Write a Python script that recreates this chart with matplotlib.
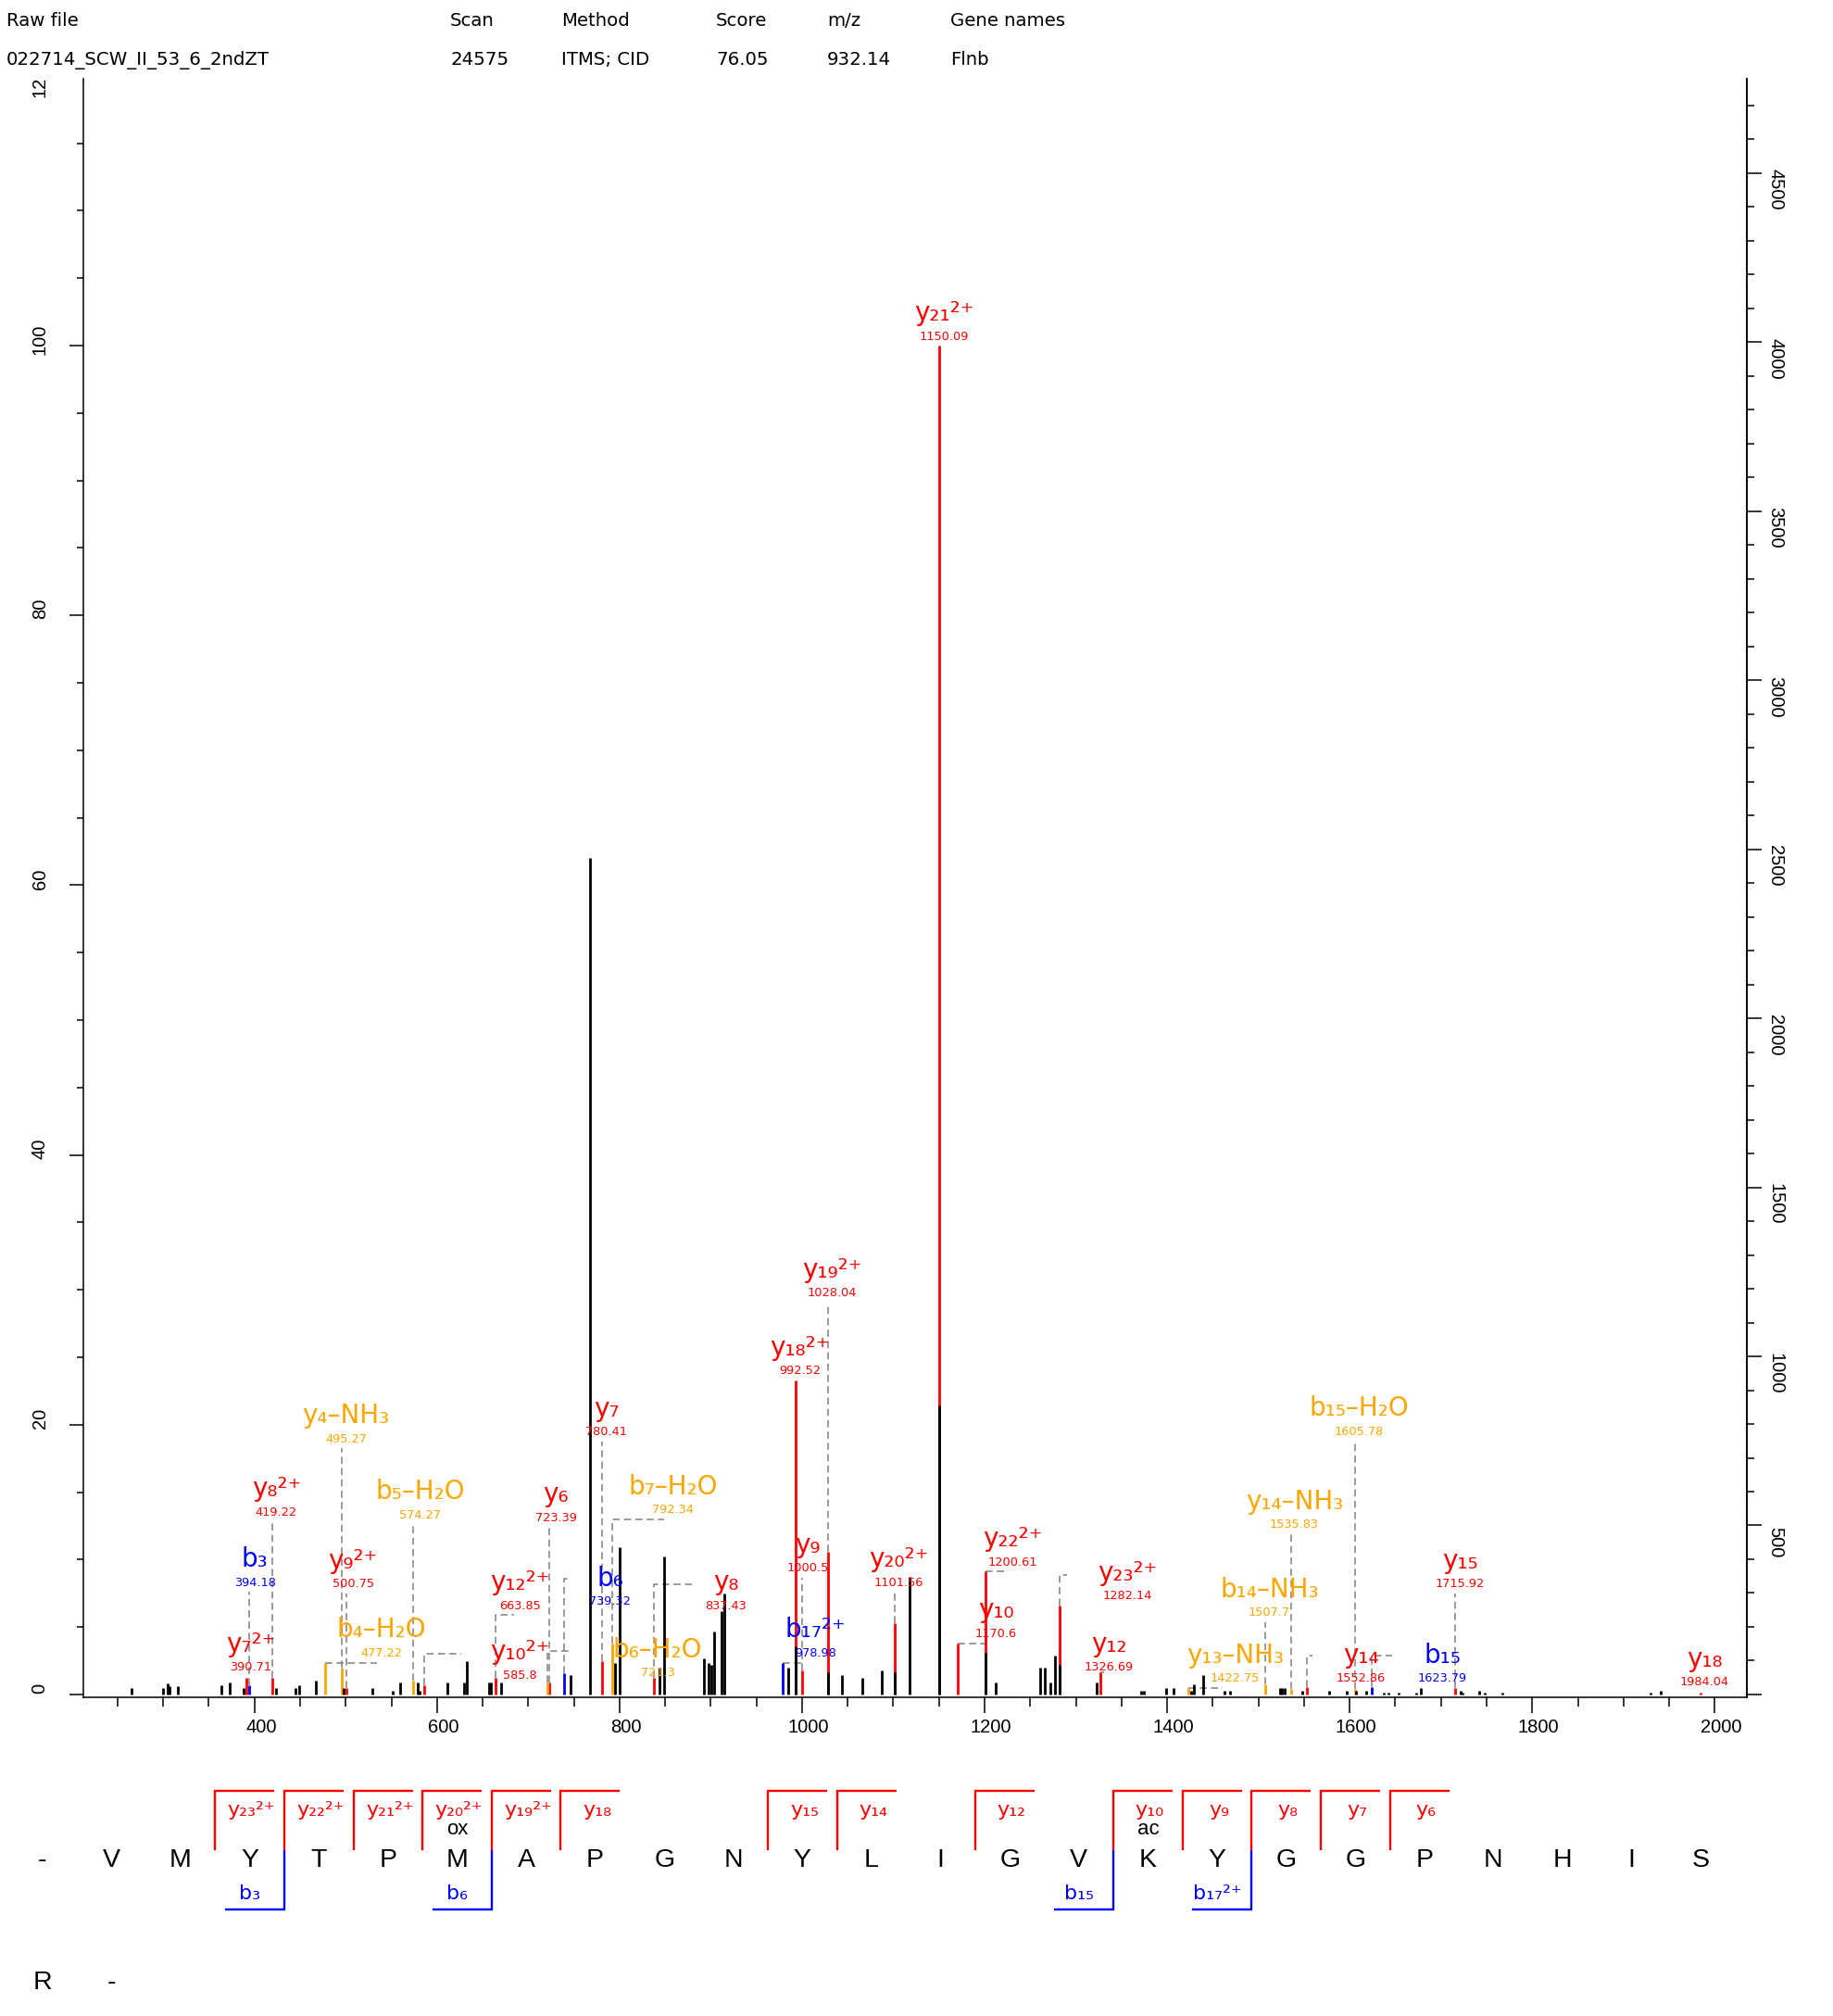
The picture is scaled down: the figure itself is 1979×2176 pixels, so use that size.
import matplotlib
matplotlib.use('Agg')
import matplotlib.pyplot as plt
import matplotlib.transforms as mtransforms
from matplotlib.ticker import FixedLocator

# ---------------- data ----------------
header_keys = ['Raw file', 'Scan', 'Method', 'Score', 'm/z', 'Gene names']
header_vals = ['022714_SCW_II_53_6_2ndZT', '24575', 'ITMS; CID', '76.05', '932.14', 'Flnb']

# unannotated (black) peaks: m/z, relative intensity (%)
black_mz = [265.0, 299.6, 305.1, 307.3, 316.5, 364.1, 373.2, 388.4, 424.0, 445.3,
            448.7, 467.6, 497.4, 529.5, 551.5, 560.0, 578.6, 581.3, 611.1, 629.7,
            632.7, 656.8, 659.1, 670.6, 746.4, 768.0, 795.2, 800.5, 844.2, 849.3,
            892.6, 898.0, 900.7, 903.4, 911.6, 914.3, 984.7, 992.6, 1028.1, 1044.1,
            1065.9, 1087.8, 1101.6, 1117.6, 1150.2, 1200.7, 1212.0, 1260.4, 1266.1, 1271.6,
            1276.6, 1282.2, 1322.3, 1371.4, 1374.7, 1398.4, 1406.9, 1426.0, 1429.0, 1439.0,
            1463.3, 1469.4, 1523.6, 1526.0, 1528.7, 1548.0, 1577.8, 1596.4, 1607.2, 1618.4,
            1636.9, 1642.0, 1653.2, 1672.4, 1677.5, 1721.5, 1724.0, 1741.8, 1747.9, 1767.2,
            1929.6, 1940.4]
black_int = [0.45, 0.45, 0.8, 0.6, 0.6, 0.7, 0.9, 0.5, 0.5, 0.5,
             0.7, 1.0, 0.5, 0.5, 0.3, 0.9, 0.9, 0.3, 0.9, 0.9,
             2.5, 0.9, 0.9, 0.9, 1.44, 62.0, 2.36, 10.9, 2.0, 10.2,
             2.7, 2.36, 2.2, 4.7, 6.2, 7.5, 2.0, 3.6, 1.65, 1.42,
             1.26, 1.8, 1.65, 8.7, 21.4, 3.1, 0.9, 2.0, 2.0, 0.9,
             2.9, 2.2, 0.9, 0.3, 0.3, 0.5, 0.5, 0.3, 0.73, 1.42,
             0.3, 0.3, 0.5, 0.5, 0.5, 0.3, 0.3, 0.3, 0.3, 0.3,
             0.12, 0.12, 0.12, 0.15, 0.5, 0.3, 0.16, 0.3, 0.12, 0.12,
             0.15, 0.3]

# annotated peaks
ion_main = ['y₂₁²⁺', 'y₁₉²⁺', 'y₁₈²⁺', 'y₇', 'y₄–NH₃',
            'b₁₅–H₂O', 'y₈²⁺', 'b₅–H₂O', 'y₆', 'b₇–H₂O',
            'y₁₄–NH₃', 'y₂₂²⁺', 'b₃', 'y₉²⁺', 'y₂₃²⁺',
            'y₂₀²⁺', 'y₁₂²⁺', 'b₆', 'y₉', 'y₈',
            'b₁₄–NH₃', 'y₁₅', 'y₁₀', 'b₁₇²⁺', 'b₄–H₂O',
            'y₁₀²⁺', 'b₆–H₂O', 'y₇²⁺', 'y₁₂', 'y₁₃–NH₃',
            'y₁₄', 'b₁₅', 'y₁₈']
ion_num = ['1150.09', '1028.04', '992.52', '780.41', '495.27',
           '1605.78', '419.22', '574.27', '723.39', '792.34',
           '1535.83', '1200.61', '394.18', '500.75', '1282.14',
           '1101.56', '663.85', '739.32', '1000.5', '837.43',
           '1507.7', '1715.92', '1170.6', '978.98', '477.22',
           '585.8', '721.3', '390.71', '1326.69', '1422.75',
           '1552.86', '1623.79', '1984.04']
ion_mz = [1150.09, 1028.04, 992.52, 780.41, 495.27,
          1605.78, 419.22, 574.27, 723.39, 792.34,
          1535.83, 1200.61, 394.18, 500.75, 1282.14,
          1101.56, 663.85, 739.32, 1000.5, 837.43,
          1507.7, 1715.92, 1170.6, 978.98, 477.22,
          585.8, 721.3, 390.71, 1326.69, 1422.75,
          1552.86, 1623.79, 1984.04]
ion_int = [100.0, 10.6, 23.25, 2.5, 2.0,
           0.4, 1.26, 1.0, 0.9, 3.8,
           0.4, 9.1, 0.7, 0.5, 6.57,
           5.27, 1.26, 1.6, 1.8, 1.26,
           0.73, 0.5, 3.8, 2.36, 2.36,
           0.7, 0.9, 1.26, 1.65, 0.5,
           0.57, 0.57, 0.16]
ion_type = ['y', 'y', 'y', 'y', 'loss',
            'loss', 'y', 'loss', 'y', 'loss',
            'loss', 'y', 'b', 'y', 'y',
            'y', 'y', 'b', 'y', 'y',
            'loss', 'y', 'y', 'b', 'loss',
            'y', 'loss', 'y', 'y', 'loss',
            'y', 'b', 'y']

base_peak = 3990   # absolute intensity of 100 %

x_ticks = [400, 600, 800, 1000, 1200, 1400, 1600, 1800, 2000]
left_ticks = [0, 20, 40, 60, 80, 100]
right_ticks = [500, 1000, 1500, 2000, 2500, 3000, 3500, 4000, 4500]

sequence_row1 = '-VMYTPMAPGNYLIGVKYGGPNHIS'
sequence_row2 = 'R-'
y_brackets = [(3, 'y₂₃²⁺'), (4, 'y₂₂²⁺'), (5, 'y₂₁²⁺'), (6, 'y₂₀²⁺'),
              (7, 'y₁₉²⁺'), (8, 'y₁₈'), (11, 'y₁₅'), (12, 'y₁₄'),
              (14, 'y₁₂'), (16, 'y₁₀'), (17, 'y₉'), (18, 'y₈'),
              (19, 'y₇'), (20, 'y₆')]
b_brackets = [(3, 'b₃'), (6, 'b₆'), (15, 'b₁₅'), (17, 'b₁₇²⁺')]
mods = [(6, 'ox'), (16, 'ac')]

# ---------------- layout ----------------
type_colors = {'y': '#FF0000', 'b': '#0000FF', 'loss': '#FFA500'}
label_x = [1155.8, 1033.0, 997.5, 785.7, 500.1,
           1609.9, 424.0, 581.3, 730.2, 858.8,
           1539.5, 1230.9, 400.3, 507.9, 1356.2,
           1105.7, 690.6, 789.4, 1006.0, 916.2,
           1511.8, 1720.9, 1212.3, 1014.4, 539.1,
           691.3, 841.8, 396.2, 1336.5, 1474.5,
           1612.6, 1701.9, 1988.8]
label_y = [100.67, 29.74, 23.97, 19.44, 18.94,
           19.5, 13.5, 13.3, 13.1, 13.7,
           12.57, 9.8, 8.3, 8.17, 7.3,
           8.3, 6.57, 6.9, 9.36, 6.57,
           6.06, 8.17, 4.5, 3.07, 3.07,
           1.42, 1.58, 1.99, 1.99, 1.19,
           1.19, 1.19, 0.89]
connector = [None, 'v', None, 'v', 'v',
             'v', 'v', 'v', 'v', (13.0, 849.0),
             'v', (9.1, 1225.8), 'v', 'v', (8.86, 1290.2),
             'v', (5.9, 684.5), (8.6, 746.4), 'v', (8.17, 879.1),
             'v', 'v', (3.8, 1205.5), (2.36, 1002.5), (2.36, 534.0),
             (3.0, 626.4), (3.2, 746.4), None, (1.65, 1330.8), (0.5, 1461.0),
             (2.9, 1559.2), (2.9, 1647.0), None]

W, H = 1979, 2176
PX = 72 / 100.0   # points per pixel
fig = plt.figure(figsize=(W / 100, H / 100), dpi=100)
ax = fig.add_axes([90 / W, 1 - 1832.3 / H, (1886 - 90) / W, (1832.3 - 85) / H])
ax.set_xlim(212.5, 2035.2)
ax.set_ylim(-0.23, 119.78)

tick_font = dict(family='Liberation Sans', size=14.5)

# bars
for mz, it, t in zip(ion_mz, ion_int, ion_type):
    ax.vlines(mz, 0, it, color=type_colors[t], lw=2.0, zorder=3)
ax.vlines(black_mz, 0, black_int, color='black', lw=2.0, zorder=4)

# connectors and labels
dash = dict(color='#808080', lw=1.1, dashes=(5, 3), zorder=1)
for i in range(len(ion_mz)):
    c = connector[i]
    col = type_colors[ion_type[i]]
    if c == 'v':
        ax.plot([ion_mz[i], ion_mz[i]], [ion_int[i], label_y[i] - 0.7], **dash)
    elif c is not None:
        ey, ex = c
        ax.plot([ion_mz[i], ion_mz[i], ex], [ion_int[i], ey, ey], **dash)
    ax.text(label_x[i], label_y[i], ion_num[i], color=col, fontsize=9.3,
            family='DejaVu Sans', ha='center', va='center', zorder=6)
    ax.annotate(ion_main[i], xy=(label_x[i], label_y[i]), xytext=(0, 12.2),
                textcoords='offset points', ha='center', va='baseline',
                fontsize=20, family='DejaVu Sans', color=col, zorder=6,
                annotation_clip=False)

# axes styling
ax.spines['top'].set_visible(False)
for s in ['left', 'right', 'bottom']:
    ax.spines[s].set_linewidth(1.1)
ax.xaxis.set_major_locator(FixedLocator(x_ticks))
ax.xaxis.set_minor_locator(FixedLocator([v for v in range(250, 2001, 50) if v % 200 != 0]))
ax.yaxis.set_major_locator(FixedLocator(left_ticks))
ax.yaxis.set_minor_locator(FixedLocator([v for v in range(5, 120, 5) if v % 20 != 0]))
ax.tick_params(axis='x', which='major', direction='out', length=12.2, width=1.1, labelbottom=False)
ax.tick_params(axis='x', which='minor', direction='out', length=7.2, width=1.1)
ax.tick_params(axis='y', which='major', direction='out', length=10.8, width=1.1, labelleft=False)
ax.tick_params(axis='y', which='minor', direction='out', length=5.0, width=1.1)

tx = mtransforms.blended_transform_factory(ax.transData, ax.transAxes)
for v in x_ticks:
    ax.annotate(str(v), xy=(v, 0), xycoords=tx, xytext=(7 * PX, -31.7 * PX),
                textcoords='offset points', ha='center', va='center', **tick_font)
ty = mtransforms.blended_transform_factory(ax.transAxes, ax.transData)
for v in left_ticks:
    ax.annotate(str(v), xy=(0, v), xycoords=ty, xytext=(-37.3 * PX, 7 * PX),
                textcoords='offset points', ha='right', va='center', rotation=90, **tick_font)
# top label, partly hidden behind the header strip
t120 = fig.text(52.7 / W, 1 - 88 / H, '120', rotation=90, ha='right', va='center', **tick_font)
t120.set_clip_on(True)
t120.set_clip_box(mtransforms.TransformedBbox(
    mtransforms.Bbox([[0, 0], [1, 1 - 85 / H]]), fig.transFigure))

ax2 = ax.twinx()
ax2.set_ylim(-0.23 * base_peak / 100, 119.78 * base_peak / 100)
for s in ['top', 'left', 'bottom']:
    ax2.spines[s].set_visible(False)
ax2.spines['right'].set_linewidth(1.1)
ax2.yaxis.set_major_locator(FixedLocator([0] + right_ticks))
ax2.yaxis.set_minor_locator(FixedLocator([v for v in range(100, 4701, 100) if v % 500 != 0]))
ax2.tick_params(axis='y', which='major', direction='out', length=11.5, width=1.1, labelright=False)
ax2.tick_params(axis='y', which='minor', direction='out', length=5.8, width=1.1)
ty2 = mtransforms.blended_transform_factory(ax2.transAxes, ax2.transData)
for v in right_ticks:
    ax2.annotate(str(v), xy=(1, v), xycoords=ty2, xytext=(21.3 * PX, -17.8 * PX),
                 textcoords='offset points', ha='left', va='center', rotation=-90, **tick_font)

# overlay pixel axes for header and sequence
axs = fig.add_axes([0, 0, 1, 1])
axs.set_xlim(0, W); axs.set_ylim(H, 0)
axs.axis('off')
axs.patch.set_visible(False)

hx = [7, 486, 606, 773, 893, 1026]
for x, k, v in zip(hx, header_keys, header_vals):
    axs.text(x, 28, k, ha='left', va='baseline', fontsize=14.2, family='DejaVu Sans')
    axs.text(x, 70, v, ha='left', va='baseline', fontsize=14.2, family='DejaVu Sans')

def sx(i):
    return 45.8 + i * 74.6

for i, ch in enumerate(sequence_row1):
    axs.text(sx(i), 2015, ch, ha='center', va='baseline', fontsize=20.5, family='Liberation Sans')
for i, ch in enumerate(sequence_row2):
    axs.text(sx(i), 2147, ch, ha='center', va='baseline', fontsize=20.5, family='Liberation Sans')

for slot, lab in y_brackets:
    xb = sx(slot) - 37.3
    axs.plot([xb, xb, xb + 64], [1996.7, 1932.7, 1932.7], color='#FF0000', lw=1.7,
             solid_joinstyle='miter', solid_capstyle='butt')
    axs.text(sx(slot) + 2, 1960, lab, color='#FF0000', fontsize=16, family='DejaVu Sans',
             ha='center', va='baseline')
for slot, lab in b_brackets:
    xb = sx(slot) + 37.3
    axs.plot([xb - 64, xb, xb], [2061, 2061, 1996.7], color='#0000FF', lw=1.7,
             solid_joinstyle='miter', solid_capstyle='butt')
    axs.text(sx(slot), 2050, lab, color='#0000FF', fontsize=16, family='DejaVu Sans',
             ha='center', va='baseline')
for slot, lab in mods:
    axs.text(sx(slot), 1980, lab, color='black', fontsize=16, family='Liberation Sans',
             ha='center', va='baseline')

fig.savefig('out.png', dpi=100)
